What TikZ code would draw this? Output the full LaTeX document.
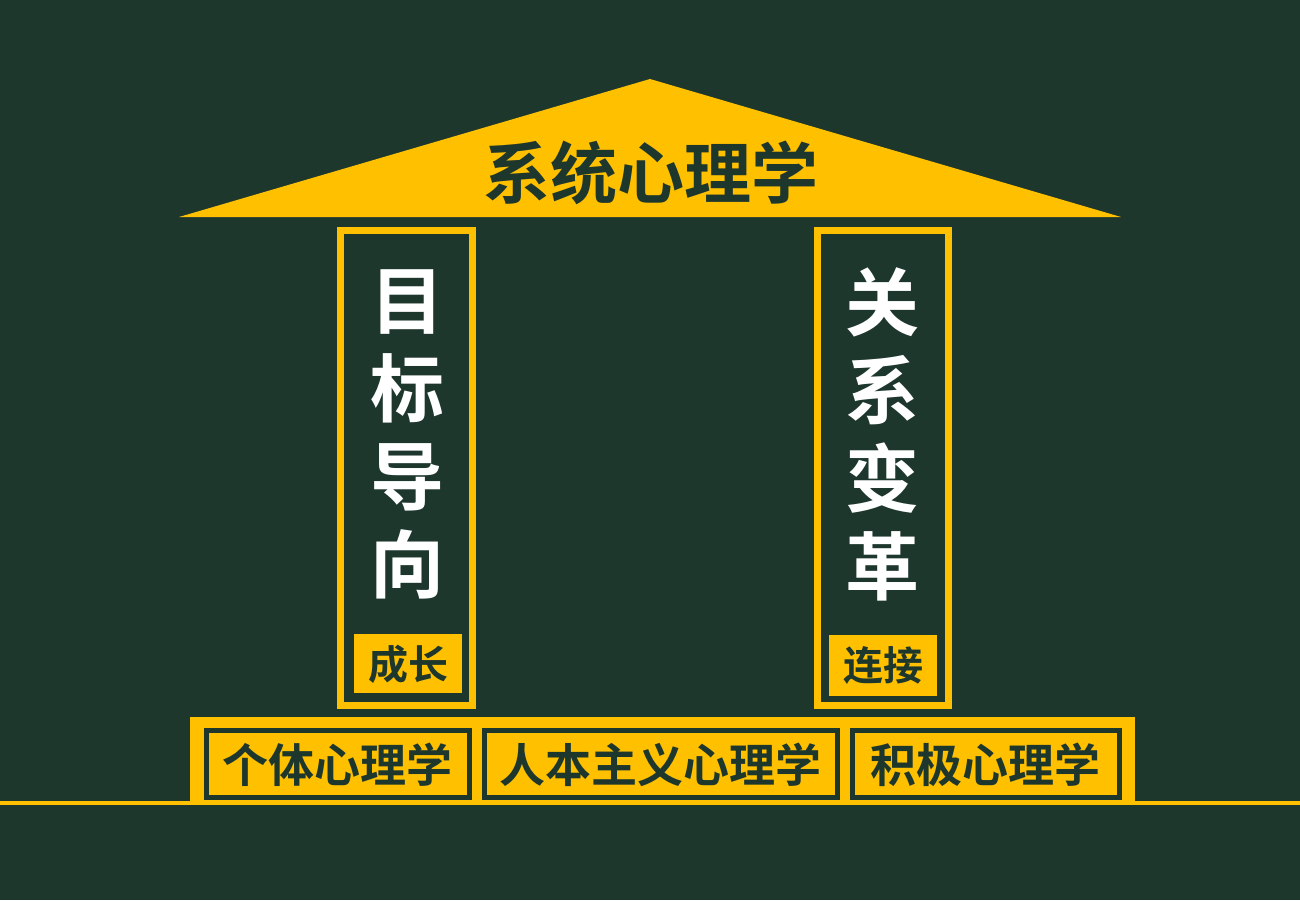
\documentclass[tikz,border=0pt]{standalone}
\usepackage{fontspec}
\newfontfamily\cjk{Noto Sans CJK SC}[BoldFont={Noto Sans CJK SC Bold}]
\definecolor{bgdark}{HTML}{1E372D}
\definecolor{gold}{HTML}{FFC000}
\tikzset{
  roottext/.style={font=\cjk\bfseries\fontsize{67}{67}\selectfont, text=bgdark, inner sep=0pt},
  pillartext/.style={font=\cjk\bfseries\fontsize{74}{88}\selectfont, text=white, align=center, inner sep=0pt},
  pillarframe/.style={draw=gold, line width=7pt},
  tagbox/.style={fill=gold, font=\cjk\bfseries\fontsize{40}{40}\selectfont, text=bgdark, inner sep=0pt},
  basebox/.style={draw=bgdark, fill=gold, line width=5pt},
  basetext/.style={font=\cjk\bfseries\fontsize{46}{46}\selectfont, text=bgdark, inner sep=0pt}
}
\begin{document}
\begin{tikzpicture}[x=1pt,y=-1pt]
\fill[bgdark] (0,0) rectangle (1300,900);
\useasboundingbox (0,0) rectangle (1300,900);
% roof
\fill[gold] (650,79) -- (1121,217) -- (179,217) -- cycle;
\node[roottext] (roof) at (651,173) {系统心理学};
% base
\fill[gold] (190,717) rectangle (1135,803);
\draw[gold, line width=4.5pt] (0,803) -- (1300,803);
\draw[basebox] (206,730) rectangle (469,797);
\draw[basebox] (484,730) rectangle (837,797);
\draw[basebox] (852,730) rectangle (1119,797);
\node[basetext] (b1) at (337.5,765) {个体心理学};
\node[basetext] (b2) at (660.5,765) {人本主义心理学};
\node[basetext] (b3) at (985.5,765) {积极心理学};
% left pillar
\draw[pillarframe] (340,230) rectangle (472,705);
\node[pillartext] (lp) at (407,434) {目\\标\\导\\向};
\fill[gold] (354,634) rectangle (462,693);
\node[tagbox] (lt) at (408,664) {成长};
% right pillar
\draw[pillarframe] (817,230) rectangle (948,705);
\node[pillartext] (rp) at (882,434) {关\\系\\变\\革};
\fill[gold] (829,635) rectangle (937,696);
\node[tagbox] (rt) at (883,665) {连接};
\end{tikzpicture}
\end{document}
